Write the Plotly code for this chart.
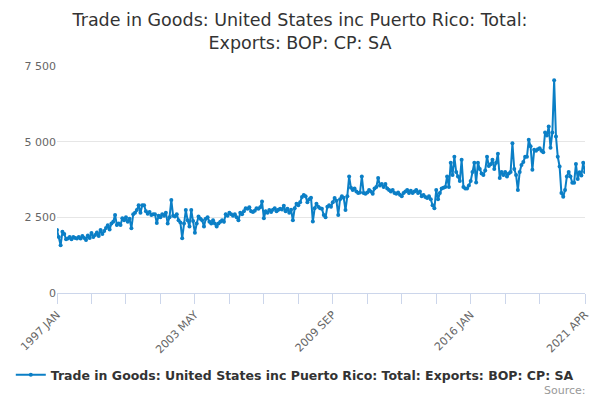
import plotly.graph_objects as go

# monthly categories 1997 JAN .. 2021 APR
month_names = ["JAN", "FEB", "MAR", "APR", "MAY", "JUN",
               "JUL", "AUG", "SEP", "OCT", "NOV", "DEC"]
months = [f"{y} {m}" for y in range(1997, 2022) for m in month_names][:292]

# values (one row per year)
exports = [
    2080, 1850, 1580, 2020, 1950, 1780, 1800, 1850, 1780, 1850, 1820, 1800,  # 1997
    1850, 1800, 1880, 1820, 1750, 1900, 1820, 1980, 1850, 1920, 2000, 1880,  # 1998
    2080, 1950, 2050, 2150, 2240, 2100, 2300, 2350, 2580, 2250, 2300, 2250,  # 1999
    2470, 2400, 2500, 2350, 2450, 2140, 2600, 2650, 2740, 2900, 2650, 2900,  # 2000
    2900, 2700, 2620, 2680, 2580, 2600, 2600, 2310, 2550, 2500, 2600, 2550,  # 2001
    2650, 2300, 2500, 3070, 2550, 2530, 2600, 2400, 2330, 1810, 2300, 2740,  # 2002
    2400, 2200, 2740, 2380, 1990, 2300, 2530, 2450, 2400, 2200, 2450, 2500,  # 2003
    2350, 2300, 2400, 2300, 2200, 2300, 2350, 2400, 2350, 2600, 2550, 2650,  # 2004
    2600, 2550, 2600, 2500, 2400, 2650, 2600, 2700, 2800, 2780, 2830, 2700,  # 2005
    2680, 2720, 2800, 2780, 2830, 3020, 2470, 2700, 2650, 2740, 2680, 2750,  # 2006
    2800, 2700, 2750, 2780, 2760, 2880, 2700, 2780, 2650, 2750, 2400, 2800,  # 2007
    2950, 2900, 3000, 3170, 3240, 3200, 3000, 3100, 3150, 2360, 2800, 2950,  # 2008
    2850, 2800, 2780, 2580, 2500, 2850, 2900, 2850, 3000, 3140, 3050, 2580,  # 2009
    3100, 3200, 3150, 2740, 3200, 3850, 3480, 3400, 3450, 3350, 3300, 3320,  # 2010
    3850, 3300, 3280, 3320, 3400, 3350, 3280, 3450, 3500, 3800, 3550, 3600,  # 2011
    3500, 3600, 3450, 3400, 3350, 3400, 3300, 3280, 3320, 3250, 3200, 3300,  # 2012
    3350, 3400, 3300, 3380, 3300, 3350, 3400, 3300, 3350, 3200, 3240, 3170,  # 2013
    3140, 3200, 3100, 2900, 2800, 3400, 3100, 3300, 3450, 3480, 3500, 3850,  # 2014
    3500, 4300, 3900, 4500, 4000, 3850, 3700, 4400, 3500, 3450, 3450, 3550,  # 2015
    3700, 4000, 4300, 3650, 4300, 4100, 3950, 3900, 4050, 4500, 4200, 4250,  # 2016
    4400, 4100, 4300, 4600, 3800, 4000, 3900, 4000, 3850, 3950, 4000, 4950,  # 2017
    4100, 3900, 3400, 4000, 4230, 4330, 4500, 4500, 5060, 4850, 4070, 4730,  # 2018
    4700, 4750, 4780, 4700, 4650, 5300, 5200, 5500, 4800, 5300, 7030, 5170,  # 2019
    4500, 4180, 3300, 3180, 3400, 3850, 4000, 3850, 3640, 3640, 4260, 3770,  # 2020
    3990, 3880, 4300, 4000,                                                  # 2021
]

series_name = "Trade in Goods: United States inc Puerto Rico: Total: Exports: BOP: CP: SA"
title = "Trade in Goods: United States inc Puerto Rico: Total:<br>Exports: BOP: CP: SA"

y_ticks = [0, 2500, 5000, 7500]
y_tick_labels = ["0", "2 500", "5 000", "7 500"]

# tick every 19 months, label every 4th tick, plus the last month
tick_idx = list(range(0, len(months) - 19, 19)) + [len(months) - 1]
label_idx = [0, 76, 152, 228, len(months) - 1]
tick_vals = [months[i] for i in tick_idx]
tick_text = [months[i] if i in label_idx else "" for i in tick_idx]

blue = "#0b7fc6"

fig = go.Figure()
fig.add_trace(go.Scatter(
    x=months, y=exports, name=series_name, mode="lines+markers",
    line=dict(color=blue, width=2),
    marker=dict(color=blue, size=4),
))

fig.update_layout(
    width=600, height=400,
    paper_bgcolor="white", plot_bgcolor="white",
    font=dict(family="DejaVu Sans", color="#666666"),
    margin=dict(l=57, r=15, t=66, b=107, autoexpand=False),
    title=dict(text=title, x=0.5, xanchor="center",
               y=0.935, yref="container", yanchor="top",
               font=dict(size=17.5, color="#333333")),
    showlegend=True,
    legend=dict(orientation="h", xref="container", x=0.018, xanchor="left",
                yref="container", y=0.0625, yanchor="middle",
                font=dict(size=12.5, color="#333333", weight="bold")),
    xaxis=dict(
        type="category", range=[0, len(months) - 1],
        tickmode="array", tickvals=tick_vals, ticktext=tick_text,
        tickangle=-45, tickfont=dict(size=11, color="#666666"),
        ticks="outside", ticklen=10, tickcolor="#ccd6eb",
        showline=True, linecolor="#ccd6eb", linewidth=1,
        showgrid=False, zeroline=False, automargin=False,
    ),
    yaxis=dict(
        range=[0, 7500], tickmode="array",
        tickvals=y_ticks, ticktext=y_tick_labels,
        tickfont=dict(size=11, color="#666666"),
        showgrid=True, gridcolor="#e6e6e6", zeroline=False,
        showline=False, ticks="", automargin=False,
    ),
)

fig.add_annotation(text="Source:", xref="paper", yref="paper",
                   x=1.006, y=-0.43, xanchor="right", yanchor="middle",
                   showarrow=False, font=dict(size=11, color="#999999"))

# drop the default page margin so the figure sits at the window's corner
fig.write_html("out.html", config={"displayModeBar": False},
               post_script="document.body.style.margin = '0';")
